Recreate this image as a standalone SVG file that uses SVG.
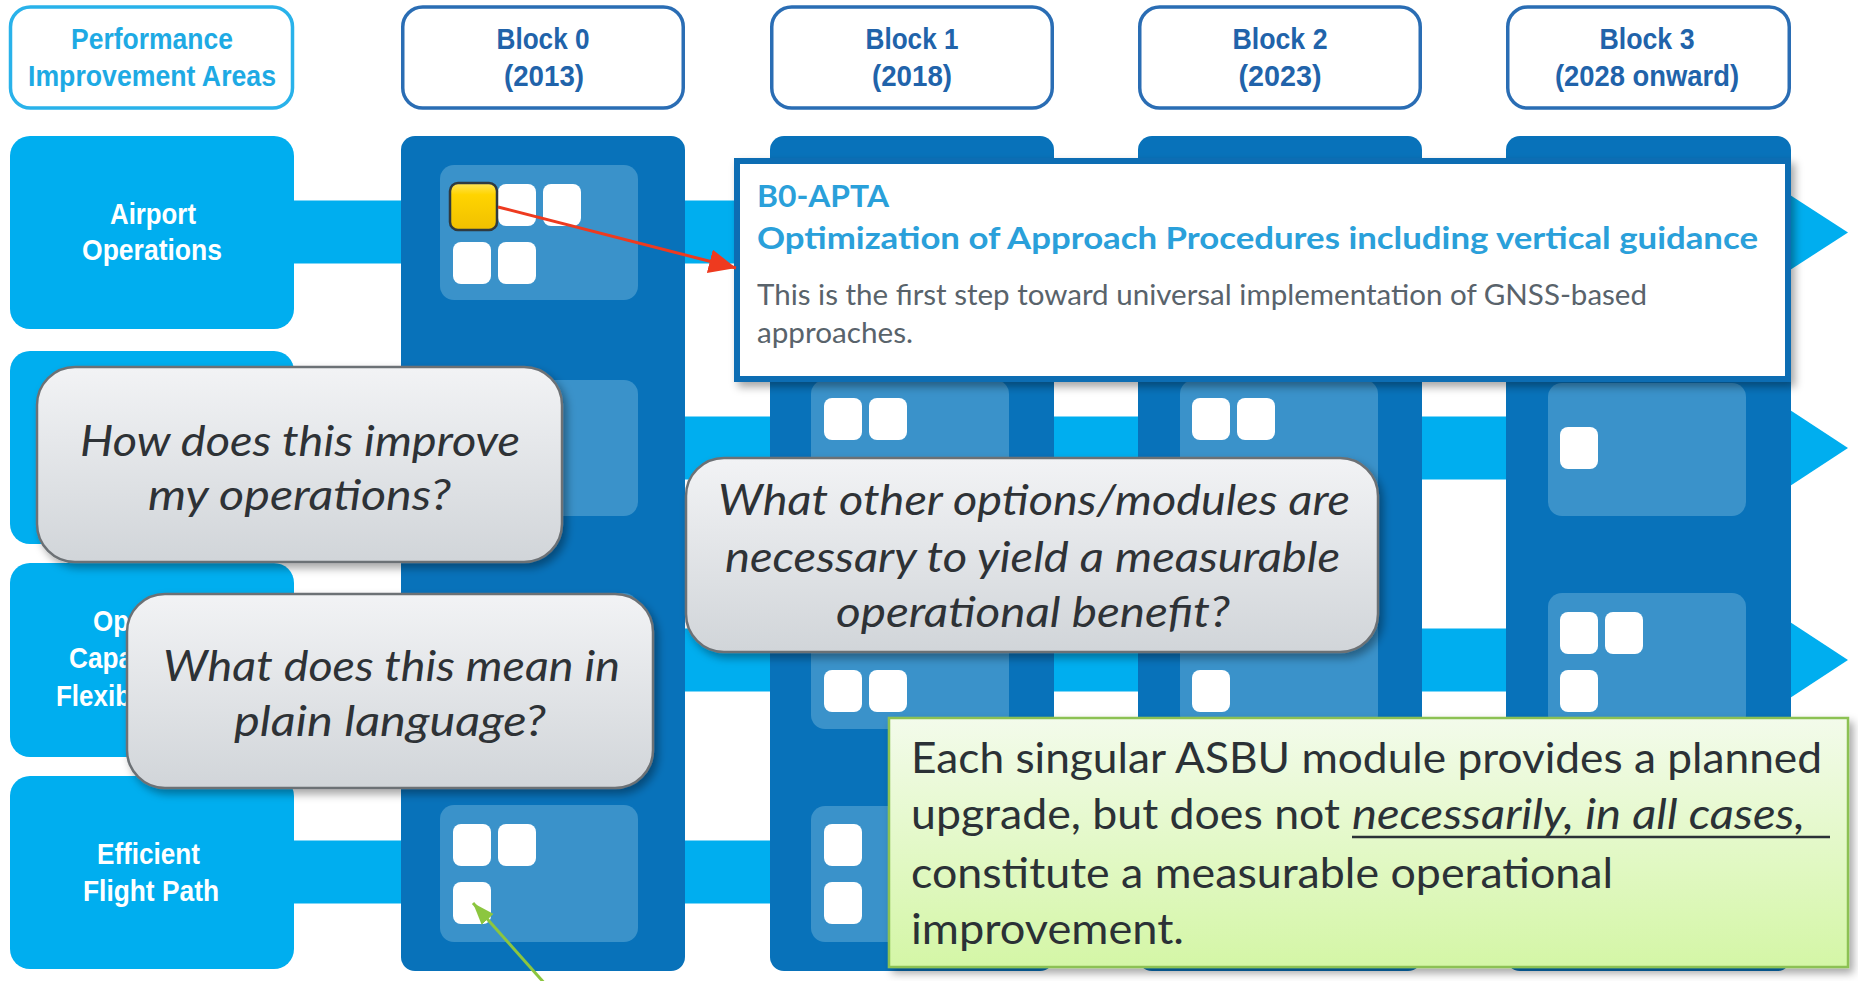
<svg xmlns="http://www.w3.org/2000/svg" width="1858" height="981" viewBox="0 0 1858 981">
<style>
.hdr{fill:#fff;stroke-width:3.5}
.hdrP{stroke:#29b2ea}
.hdrB{stroke:#2a6db4}
.ht{font-family:"Liberation Sans",Arial,sans-serif;font-weight:bold;font-size:30px;text-anchor:middle}
.htP{fill:#1eaae4}
.htB{fill:#2163aa}
.rowbox{fill:#00aeef}
.rt{font-family:"Liberation Sans",Arial,sans-serif;font-weight:bold;font-size:30px;fill:#fff;text-anchor:middle}
.rts{font-family:"Liberation Sans",Arial,sans-serif;font-weight:bold;font-size:30px;fill:#fff}
.bar{fill:#00aeef}
.col{fill:#0872ba}
.pan{fill:#3a92ca}
.sq{fill:#fff}
.bub{stroke:#6c7175;stroke-width:2.5;fill:url(#gBub)}
.bt{font-family:Lato,"Liberation Sans",sans-serif;font-style:italic;font-size:42px;fill:#2e3236}
.gt{font-family:Lato,"Liberation Sans",sans-serif;font-size:42px;fill:#2b3136}
.pt{font-family:Lato,"Liberation Sans",sans-serif;font-weight:bold;font-size:31px;fill:#2aa0da}
.pb{font-family:Lato,"Liberation Sans",sans-serif;font-size:28px;fill:#59636b}
</style>
<defs>
<linearGradient id="gBub" x1="0" y1="0" x2="0" y2="1">
<stop offset="0" stop-color="#f2f3f5"/>
<stop offset="1" stop-color="#d1d5d9"/>
</linearGradient>
<linearGradient id="gGreen" x1="0" y1="0" x2="0" y2="1">
<stop offset="0" stop-color="#f3fbeb"/>
<stop offset="1" stop-color="#d4f6a6"/>
</linearGradient>
<linearGradient id="gYel" x1="0" y1="0" x2="0" y2="1">
<stop offset="0" stop-color="#ffe65a"/>
<stop offset="0.25" stop-color="#ffd400"/>
<stop offset="1" stop-color="#f0c000"/>
</linearGradient>
<filter id="sh" x="-10%" y="-10%" width="125%" height="130%">
<feDropShadow dx="4" dy="5" stdDeviation="4" flood-color="#000" flood-opacity="0.35"/>
</filter>
<marker id="mRed" markerUnits="userSpaceOnUse" markerWidth="28" markerHeight="26" refX="27" refY="12" orient="auto">
<path d="M0,0 L27,12 L0,24 z" fill="#ee3a1f"/>
</marker>
<marker id="mGreen" markerUnits="userSpaceOnUse" markerWidth="24" markerHeight="18" refX="22" refY="8" orient="auto">
<path d="M0,0 L22,8 L0,16 z" fill="#8cc63f"/>
</marker>
</defs>
<rect width="1858" height="981" fill="#fff"/>

<g id="row-bars">
<rect class="bar" x="290" y="200.5" width="1501" height="63"/>
<polygon class="bar" points="1790,195 1848,232.5 1790,270"/>
<rect class="bar" x="290" y="416.5" width="1501" height="63"/>
<polygon class="bar" points="1790,410 1848,448 1790,486"/>
<rect class="bar" x="290" y="628.5" width="1501" height="63"/>
<polygon class="bar" points="1790,622 1848,660 1790,698"/>
<rect class="bar" x="290" y="840.5" width="1501" height="63"/>
<polygon class="bar" points="1790,834 1848,872 1790,910"/>
</g>

<g id="area-airport">
<rect class="rowbox" x="10" y="136" width="284" height="193" rx="20"/>
<text class="rt" x="153" y="224" textLength="86" lengthAdjust="spacingAndGlyphs">Airport</text>
<text class="rt" x="152" y="260" textLength="140" lengthAdjust="spacingAndGlyphs">Operations</text>
</g>
<g id="area-systems">
<rect class="rowbox" x="10" y="351" width="284" height="193" rx="20"/>
</g>
<g id="area-capacity">
<rect class="rowbox" x="10" y="563" width="284" height="194" rx="20"/>
<text class="rts" x="93" y="631" textLength="36" lengthAdjust="spacingAndGlyphs">Op</text>
<text class="rts" x="69" y="668" textLength="64" lengthAdjust="spacingAndGlyphs">Capa</text>
<text class="rts" x="56" y="706" textLength="75" lengthAdjust="spacingAndGlyphs">Flexib</text>
</g>
<g id="area-flightpath">
<rect class="rowbox" x="10" y="776" width="284" height="193" rx="20"/>
<text class="rt" x="148.5" y="864" textLength="103" lengthAdjust="spacingAndGlyphs">Efficient</text>
<text class="rt" x="151" y="901" textLength="136" lengthAdjust="spacingAndGlyphs">Flight Path</text>
</g>

<g id="block0">
<rect class="col" x="401" y="136" width="284" height="835" rx="14"/>
<rect class="pan" x="440" y="165" width="198" height="135" rx="14"/>
<rect class="pan" x="440" y="380" width="198" height="136" rx="14"/>
<rect class="pan" x="440" y="593" width="198" height="136" rx="14"/>
<rect class="pan" x="440" y="805" width="198" height="137" rx="14"/>
<rect class="sq" x="498" y="184" width="38" height="42" rx="8"/>
<rect class="sq" x="543" y="184" width="38" height="42" rx="8"/>
<rect class="sq" x="453" y="242" width="38" height="42" rx="8"/>
<rect class="sq" x="498" y="242" width="38" height="42" rx="8"/>
<rect x="450" y="183" width="47" height="47" rx="8" fill="url(#gYel)" stroke="#2f3a40" stroke-width="2.5"/>
<rect class="sq" x="453" y="824" width="38" height="42" rx="8"/>
<rect class="sq" x="498" y="824" width="38" height="42" rx="8"/>
<rect class="sq" x="453" y="882" width="38" height="42" rx="8"/>
</g>
<g id="block1">
<rect class="col" x="770" y="136" width="284" height="835" rx="14"/>
<rect class="pan" x="811" y="380" width="198" height="136" rx="14"/>
<rect class="pan" x="811" y="593" width="198" height="136" rx="14"/>
<rect class="pan" x="811" y="806" width="198" height="136" rx="14"/>
<rect class="sq" x="824" y="398" width="38" height="42" rx="8"/>
<rect class="sq" x="869" y="398" width="38" height="42" rx="8"/>
<rect class="sq" x="824" y="670" width="38" height="42" rx="8"/>
<rect class="sq" x="869" y="670" width="38" height="42" rx="8"/>
<rect class="sq" x="824" y="824" width="38" height="42" rx="8"/>
<rect class="sq" x="824" y="882" width="38" height="42" rx="8"/>
</g>
<g id="block2">
<rect class="col" x="1138" y="136" width="284" height="835" rx="14"/>
<rect class="pan" x="1180" y="380" width="198" height="136" rx="14"/>
<rect class="pan" x="1180" y="593" width="198" height="136" rx="14"/>
<rect class="sq" x="1192" y="398" width="38" height="42" rx="8"/>
<rect class="sq" x="1237" y="398" width="38" height="42" rx="8"/>
<rect class="sq" x="1192" y="670" width="38" height="42" rx="8"/>
</g>
<g id="block3">
<rect class="col" x="1506" y="136" width="285" height="835" rx="14"/>
<rect class="pan" x="1548" y="383" width="198" height="133" rx="14"/>
<rect class="pan" x="1548" y="593" width="198" height="136" rx="14"/>
<rect class="sq" x="1560" y="427" width="38" height="42" rx="8"/>
<rect class="sq" x="1560" y="612" width="38" height="42" rx="8"/>
<rect class="sq" x="1605" y="612" width="38" height="42" rx="8"/>
<rect class="sq" x="1560" y="670" width="38" height="42" rx="8"/>
</g>

<g id="hdr-areas">
<rect class="hdr hdrP" x="10.5" y="7" width="282" height="101" rx="20"/>
<text class="ht htP" x="152" y="49" textLength="162" lengthAdjust="spacingAndGlyphs">Performance</text>
<text class="ht htP" x="152" y="86" textLength="248" lengthAdjust="spacingAndGlyphs">Improvement Areas</text>
</g>
<g id="hdr-block0">
<rect class="hdr hdrB" x="402.75" y="7" width="280.5" height="101" rx="20"/>
<text class="ht htB" x="543" y="49" textLength="93" lengthAdjust="spacingAndGlyphs">Block 0</text>
<text class="ht htB" x="544" y="86" textLength="80" lengthAdjust="spacingAndGlyphs">(2013)</text>
</g>
<g id="hdr-block1">
<rect class="hdr hdrB" x="771.75" y="7" width="280.5" height="101" rx="20"/>
<text class="ht htB" x="912" y="49" textLength="93" lengthAdjust="spacingAndGlyphs">Block 1</text>
<text class="ht htB" x="912" y="86" textLength="80" lengthAdjust="spacingAndGlyphs">(2018)</text>
</g>
<g id="hdr-block2">
<rect class="hdr hdrB" x="1139.75" y="7" width="280.5" height="101" rx="20"/>
<text class="ht htB" x="1280" y="49" textLength="95" lengthAdjust="spacingAndGlyphs">Block 2</text>
<text class="ht htB" x="1280" y="86" textLength="83" lengthAdjust="spacingAndGlyphs">(2023)</text>
</g>
<g id="hdr-block3">
<rect class="hdr hdrB" x="1507.75" y="7" width="281.5" height="101" rx="20"/>
<text class="ht htB" x="1647" y="49" textLength="95" lengthAdjust="spacingAndGlyphs">Block 3</text>
<text class="ht htB" x="1647" y="86" textLength="184" lengthAdjust="spacingAndGlyphs">(2028 onward)</text>
</g>

<g id="popup-b0-apta">
<rect x="737" y="161" width="1051" height="218" fill="#fff" stroke="#0a6db3" stroke-width="6" filter="url(#sh)"/>
<text class="pt" x="757" y="207" textLength="132" lengthAdjust="spacingAndGlyphs">B0-APTA</text>
<text class="pt" x="757" y="249" textLength="1001" lengthAdjust="spacingAndGlyphs">Optimization of Approach Procedures including vertical guidance</text>
<text class="pb" x="757" y="305" textLength="890" lengthAdjust="spacingAndGlyphs">This is the first step toward universal implementation of GNSS-based</text>
<text class="pb" x="757" y="343" textLength="156" lengthAdjust="spacingAndGlyphs">approaches.</text>
</g>

<g id="connectors">
<line x1="498" y1="207" x2="736" y2="268" stroke="#ee3a1f" stroke-width="3" marker-end="url(#mRed)"/>
<line x1="546" y1="985" x2="473" y2="903" stroke="#8cc63f" stroke-width="3" marker-end="url(#mGreen)"/>
</g>

<g id="bubble-improve">
<rect class="bub" x="37" y="367" width="525" height="195" rx="38" filter="url(#sh)"/>
<text class="bt" x="80" y="456" textLength="440" lengthAdjust="spacingAndGlyphs">How does this improve</text>
<text class="bt" x="148" y="510" textLength="303" lengthAdjust="spacingAndGlyphs">my operations?</text>
</g>
<g id="bubble-other-options">
<rect class="bub" x="686" y="458" width="692" height="194" rx="38" filter="url(#sh)"/>
<text class="bt" x="718" y="515" textLength="632" lengthAdjust="spacingAndGlyphs">What other options/modules are</text>
<text class="bt" x="725" y="572" textLength="615" lengthAdjust="spacingAndGlyphs">necessary to yield a measurable</text>
<text class="bt" x="836" y="627" textLength="394" lengthAdjust="spacingAndGlyphs">operational benefit?</text>
</g>
<g id="bubble-plain">
<rect class="bub" x="127" y="594" width="526" height="194" rx="38" filter="url(#sh)"/>
<text class="bt" x="163" y="681" textLength="457" lengthAdjust="spacingAndGlyphs">What does this mean in</text>
<text class="bt" x="234" y="736" textLength="312" lengthAdjust="spacingAndGlyphs">plain language?</text>
</g>

<g id="note-asbu">
<rect x="889" y="718" width="959" height="249" fill="url(#gGreen)" stroke="#8cc152" stroke-width="2.5" filter="url(#sh)"/>
<text class="gt" x="911" y="773" textLength="911" lengthAdjust="spacingAndGlyphs">Each singular ASBU module provides a planned</text>
<text class="gt" x="911" y="829" textLength="429" lengthAdjust="spacingAndGlyphs">upgrade, but does not</text>
<text class="gt" x="1352" y="829" font-style="italic" textLength="453" lengthAdjust="spacingAndGlyphs">necessarily, in all cases,</text>
<line x1="1352" y1="837" x2="1830" y2="837" stroke="#2b3136" stroke-width="2.5"/>
<text class="gt" x="911" y="888" textLength="702" lengthAdjust="spacingAndGlyphs">constitute a measurable operational</text>
<text class="gt" x="911" y="944" textLength="273" lengthAdjust="spacingAndGlyphs">improvement.</text>
</g>
</svg>
